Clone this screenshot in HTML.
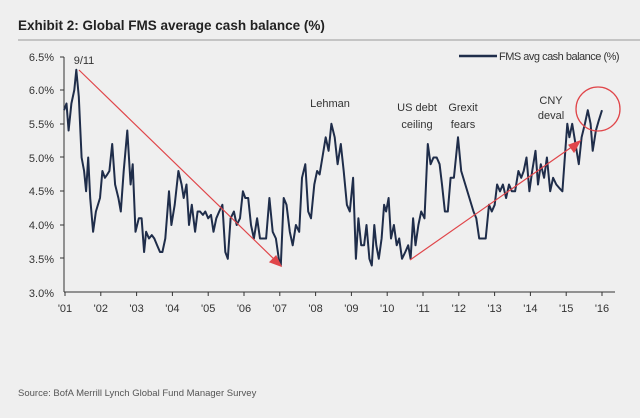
<!DOCTYPE html>
<html><head><meta charset="utf-8"><style>
html,body{margin:0;padding:0;background:#efefef;}
body{width:640px;height:413px;overflow:hidden;font-family:"Liberation Sans",sans-serif;}
</style></head><body>
<svg id="s" width="640" height="413" viewBox="0 0 640 413" xmlns="http://www.w3.org/2000/svg" font-family="Liberation Sans, sans-serif">
<rect width="640" height="413" fill="#efefef"/>
<text x="18" y="30" font-size="13.5" font-weight="bold" fill="#222">Exhibit 2: Global FMS average cash balance (%)</text>
<line x1="18" y1="40" x2="640" y2="40" stroke="#999" stroke-width="1"/>
<g font-size="11" fill="#333" text-anchor="end">
<text x="54" y="61">6.5%</text><text x="54" y="94">6.0%</text><text x="54" y="128">5.5%</text>
<text x="54" y="162">5.0%</text><text x="54" y="195">4.5%</text><text x="54" y="229">4.0%</text>
<text x="54" y="263">3.5%</text><text x="54" y="297">3.0%</text>
</g>
<g stroke="#333" stroke-width="1">
<line x1="64" y1="57" x2="64" y2="292"/>
<line x1="64" y1="292" x2="615" y2="292"/>
<line x1="60" y1="57" x2="64" y2="57"/><line x1="60" y1="90" x2="64" y2="90"/><line x1="60" y1="124" x2="64" y2="124"/>
<line x1="60" y1="157" x2="64" y2="157"/><line x1="60" y1="191" x2="64" y2="191"/><line x1="60" y1="225" x2="64" y2="225"/>
<line x1="60" y1="258" x2="64" y2="258"/>
</g>
<g id="xt" font-size="11" fill="#333" text-anchor="middle"></g>
<path id="ser" fill="none" stroke="#1f2d4a" stroke-width="2" stroke-linejoin="round"/>
<g stroke="#e0464a" stroke-width="1.2" fill="#e0464a">
<line x1="79" y1="70" x2="278" y2="263"/>
<polygon points="281,266 270,262 276,256"/>
<line x1="410" y1="260" x2="576" y2="144"/>
<polygon points="580,141 574,152 569,145"/>
</g>
<circle cx="598" cy="109" r="22" fill="none" stroke="#e0464a" stroke-width="1.3"/>
<g font-size="11" fill="#333" text-anchor="middle">
<text x="84" y="64">9/11</text>
<text x="330" y="107">Lehman</text>
<text x="417" y="111">US debt</text><text x="417" y="128">ceiling</text>
<text x="463" y="111">Grexit</text><text x="463" y="128">fears</text>
<text x="551" y="104">CNY</text><text x="551" y="119">deval</text>
</g>
<line x1="459" y1="56" x2="497" y2="56" stroke="#1f2d4a" stroke-width="2.5"/>
<text x="499" y="60" font-size="11" fill="#333" letter-spacing="-0.5">FMS avg cash balance (%)</text>
<text x="18" y="396" font-size="9.5" fill="#555">Source: BofA Merrill Lynch Global Fund Manager Survey</text>
</svg>
<script>
var d=[157,5.7,163,5.8,168,5.4,175,5.8,182,6.0,187,6.3,193,5.9,200,5.0,206,4.8,211,4.5,216,5.0,221,4.4,228,3.9,235,4.2,245,4.4,251,4.8,257,4.7,263,4.75,268,4.8,275,5.2,282,4.6,290,4.4,296,4.2,303,4.8,312,5.4,320,4.6,325,4.9,332,3.9,340,4.1,347,4.1,353,3.6,358,3.9,365,3.8,372,3.85,378,3.8,385,3.7,392,3.6,398,3.6,405,3.8,414,4.5,420,4.0,428,4.3,437,4.8,445,4.6,450,4.4,457,4.6,463,4.0,470,4.3,478,3.9,484,4.2,490,4.2,497,4.15,503,4.2,510,4.1,517,4.15,523,3.9,530,4.1,537,4.2,545,4.3,552,3.6,558,3.5,565,4.1,573,4.2,580,4.0,588,4.1,595,4.5,601,4.4,608,4.4,615,4.0,622,3.8,630,4.1,637,3.8,645,3.8,652,3.8,660,4.4,668,3.9,676,3.8,683,3.5,688,3.4,695,4.4,702,4.3,710,3.9,717,3.7,725,4.0,733,3.9,740,4.7,748,4.9,755,4.2,762,4.1,770,4.6,777,4.8,783,4.75,790,5.0,798,5.3,805,5.1,812,5.5,820,5.3,827,4.9,835,5.2,842,4.8,850,4.3,857,4.2,865,4.7,872,3.5,878,4.1,885,3.7,892,3.7,898,4.0,905,3.5,911,3.4,917,4.0,922,3.7,928,3.5,935,3.8,941,4.3,946,4.2,952,4.4,958,3.8,965,4.0,972,3.7,978,3.8,985,3.5,993,3.6,1000,3.7,1006,3.5,1012,4.1,1018,3.7,1025,4.0,1032,4.2,1040,4.1,1048,5.2,1055,4.9,1062,5.0,1070,5.0,1077,4.9,1083,4.6,1090,4.2,1097,4.2,1104,4.7,1112,4.7,1122,5.3,1130,4.8,1140,4.6,1150,4.4,1160,4.2,1167,4.1,1174,3.8,1182,3.8,1190,3.8,1198,4.3,1205,4.2,1212,4.3,1218,4.6,1225,4.5,1232,4.6,1240,4.4,1247,4.6,1254,4.5,1262,4.5,1270,4.8,1277,4.7,1283,4.8,1290,5.0,1297,4.5,1304,4.8,1312,5.1,1318,4.6,1325,4.9,1333,4.7,1340,5.0,1348,4.5,1355,4.7,1363,4.6,1370,4.55,1378,4.5,1385,5.1,1390,5.5,1395,5.3,1402,5.5,1410,5.2,1418,4.9,1425,5.3,1433,5.5,1440,5.7,1447,5.5,1452,5.1,1460,5.4,1467,5.55,1475,5.7];
var p="";for(var i=0;i<d.length;i+=2){var x=d[i]/2.45,y=157.5-(d[i+1]-5)*67.5;p+=(i?"L":"M")+x.toFixed(1)+" "+y.toFixed(1);}
document.getElementById("ser").setAttribute("d",p);
var g=document.getElementById("xt"),ns="http://www.w3.org/2000/svg";
for(var k=0;k<16;k++){var x=65+k*35.8;var l=document.createElementNS(ns,"line");l.setAttribute("x1",x);l.setAttribute("x2",x);l.setAttribute("y1",292);l.setAttribute("y2",296);l.setAttribute("stroke","#333");g.appendChild(l);
var t=document.createElementNS(ns,"text");t.setAttribute("x",x);t.setAttribute("y",312);t.textContent="'"+(k+1<10?"0":"")+(k+1);g.appendChild(t);}
</script>
</body></html>
